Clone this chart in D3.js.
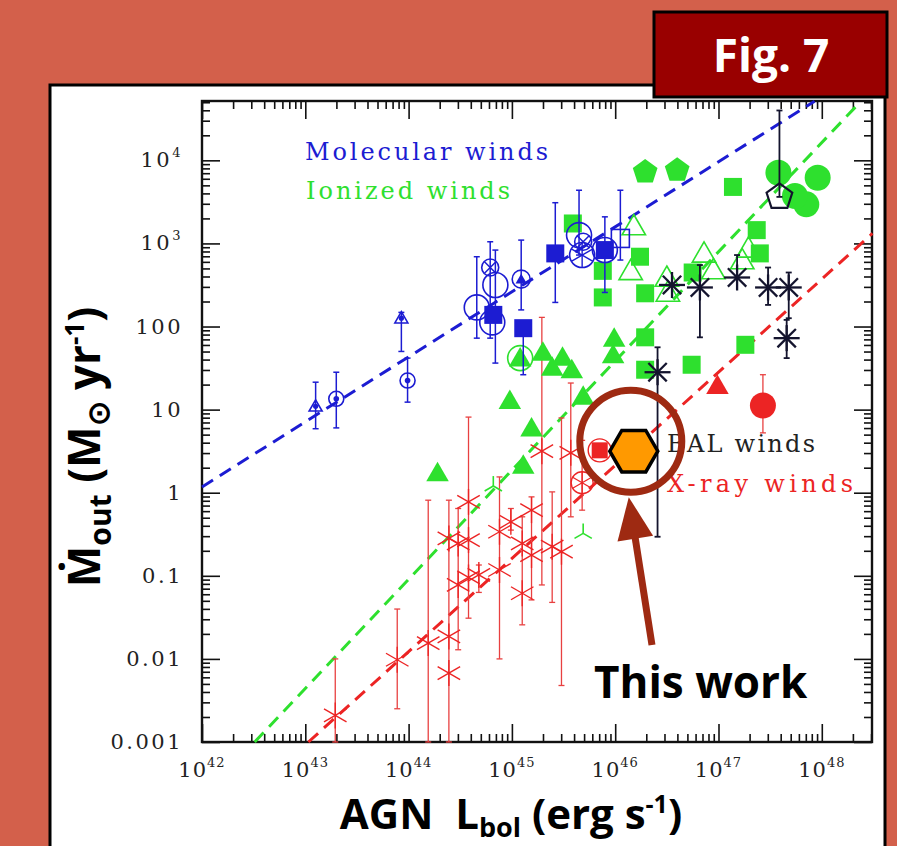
<!DOCTYPE html>
<html>
<head>
<meta charset="utf-8">
<script src="https://cdn.jsdelivr.net/npm/d3@7"></script>
<style>
  html, body { margin: 0; padding: 0; background: #D3604B; }
  svg { display: block; }
  text { white-space: pre; }
</style>
</head>
<body>
<svg id="chart" width="897" height="846"></svg>
<script>
// ---------- data (log10 of L_bol [erg/s] and log10 of Mdot_out [Msun/yr]) ----------
const xTickExponents = [42, 43, 44, 45, 46, 47, 48];
const yTickExponents = [-3, -2, -1, 0, 1, 2, 3, 4];
const yTickLabels = [["0.001"], ["0.01"], ["0.1"], ["1"], ["10"], ["100"], ["10", "3"], ["10", "4"]];

// scaling relations (dashed), given as two end points [logL, logMdot]
const molecularFit = [[42.00, 0.07], [47.93, 4.71]];
const ionizedFit   = [[42.51, -3.00], [48.34, 4.66]];
const xrayFit      = [[43.03, -3.00], [48.49, 3.12]];

// [logL, logMdot, logLow, logHigh, marker]
const molecularWinds = [
  [43.10, 1.04, 0.77, 1.33, "tdot"],
  [43.30, 1.13, 0.78, 1.45, "cdot"],
  [43.99, 1.35, 1.09, 1.62, "cdot"],
  [43.93, 2.10, 1.70, 2.17, "tdot"],
  [44.66, 2.23, 1.86, 2.84, "ocirc"],
  [44.79, 2.71, 1.86, 3.02, "cx"],
  [44.84, 2.50, 1.56, 2.92, "ocirc"],
  [44.81, 2.05, null, null, "ocirc"],
  [44.82, 2.14, null, null, "sq"],
  [45.09, 2.57, 2.20, 3.04, "ctri"],
  [45.11, 1.98, 1.42, 1.98, "sq"],
  [45.42, 2.88, 2.29, 3.49, "sq"],
  [45.65, 3.10, 2.86, 3.64, "ocirc"],
  [45.69, 3.02, null, null, "cx"],
  [45.68, 2.86, null, null, "wheel"],
  [45.90, 2.92, 2.41, 3.32, "sq"],
  [45.90, 2.92, null, null, "ocirc"],
  [46.05, 3.06, 2.80, 3.64, "osq"]
];

// [logL, logMdot, marker]
const ionizedWinds = [
  [45.59, 3.24, "sq"], [45.88, 2.67, "sq"], [45.88, 2.35, "sq"], [46.24, 2.84, "sq"],
  [46.29, 2.40, "sq"], [46.75, 2.65, "sq"], [47.14, 3.68, "sq"], [47.37, 3.16, "sq"],
  [47.40, 2.88, "sq"], [46.29, 1.87, "sq"], [46.29, 1.48, "sq"], [46.74, 1.54, "sq"],
  [47.26, 1.78, "sq"],
  [44.28, 0.24, "tri"], [44.98, 1.11, "tri"], [45.19, 0.78, "tri"], [45.11, 0.33, "tri"],
  [45.69, 1.16, "tri"], [45.08, 1.62, "tri"], [45.30, 1.69, "tri"], [45.49, 1.63, "tri"],
  [45.39, 1.51, "tri"], [45.58, 1.48, "tri"], [45.99, 1.86, "tri"], [45.98, 1.66, "tri"],
  [45.08, 1.62, "ocirc"],
  [46.18, 3.21, "otri"], [46.15, 2.67, "otri"], [46.50, 2.59, "otri"], [46.51, 2.41, "otri"],
  [46.86, 2.88, "otri"], [46.95, 2.68, "otri"], [47.29, 2.94, "otri"], [47.23, 2.80, "otri"],
  [46.29, 3.86, "pent"], [46.60, 3.88, "pent"],
  [47.58, 3.85, "dot"], [47.96, 3.79, "dot"], [47.85, 3.47, "dot"], [47.74, 3.57, "dot"],
  [44.82, 0.08, "y3"], [45.69, -0.49, "y3"]
];

const balWinds = [
  [46.55, 2.50, null, null, "ast8"],
  [46.82, 2.47, 1.87, 2.74, "ast8"],
  [47.18, 2.59, 2.59, 2.86, "ast8"],
  [47.48, 2.47, 2.26, 2.71, "ast8"],
  [47.68, 2.47, 2.10, 2.65, "ast8"],
  [47.66, 1.86, 1.62, 2.08, "ast8"],
  [46.41, 1.45, -0.53, 1.75, "ast8"],
  [47.59, 3.56, 3.56, 4.60, "opent"]
];

const xrayWinds = [
  [43.29, -2.68, -3.00, -2.00, "ast6"],
  [43.89, -2.01, -2.60, -1.40, "ast6"],
  [44.19, -1.81, -3.00, -0.09, "ast6"],
  [44.39, -1.73, -3.00, -0.09, "ast6"],
  [44.39, -2.17, null, null, "ast6"],
  [44.39, -0.55, null, null, "ast6"],
  [44.48, -1.11, -1.89, -0.19, "ast6"],
  [44.48, -0.61, null, null, "ast6"],
  [44.58, -0.11, -1.51, 0.91, "ast6"],
  [44.58, -0.57, null, null, "ast6"],
  [44.58, -1.02, null, null, "ast6"],
  [44.68, -0.99, -1.20, -0.87, "ast6"],
  [44.88, -0.47, -2.00, 0.19, "ast6"],
  [44.88, -0.93, null, null, "ast6"],
  [44.99, -0.35, -0.45, -0.19, "ast6"],
  [45.10, -0.61, -1.59, -0.29, "ast6"],
  [45.10, -1.21, null, null, "ast6"],
  [45.19, -0.21, -1.29, -0.05, "ast6"],
  [45.19, -0.75, null, null, "ast6"],
  [45.29, 0.50, -1.11, 2.11, "ast6"],
  [45.39, -0.65, -1.32, 0.01, "ast6"],
  [45.48, -0.71, -2.32, 0.90, "ast6"],
  [45.57, 0.48, -0.29, 1.32, "ast6"],
  [45.68, 0.12, -0.21, 0.63, "cplus"],
  [45.85, 0.51, null, null, "sqc"],
  [46.99, 1.29, null, null, "tri"],
  [47.43, 1.05, 0.72, 1.42, "dot"]
];

// the new measurement
const thisWork = [46.18, 0.50];

// ---------- colours ----------
const C = {
  bg: "#D3604B", fig: "#990000", ann: "#9E2A12",
  blue: "#1c1cd2", green: "#2ee02e", red: "#ec2424", bal: "#14142e", orange: "#FF9900"
};

// ---------- layout ----------
const svg = d3.select("#chart");
const plot = { left: 202, right: 872, top: 101, bottom: 742 };

const x = d3.scaleLog().domain([1e42, 10 ** 48.486]).range([plot.left, plot.right]);
const y = d3.scaleLog().domain([1e-3, 10 ** 4.714]).range([plot.bottom, plot.top]);
const X = l => x(10 ** l);
const Y = m => y(10 ** m);

// background panel
svg.append("rect").attr("width", 897).attr("height", 846).attr("fill", C.bg);
svg.append("rect").attr("x", 50).attr("y", 85).attr("width", 835).attr("height", 800)
  .attr("fill", "#ffffff").attr("stroke", "#000").attr("stroke-width", 3);

// ---------- axes ----------
const majorX = xTickExponents.map(e => 10 ** e);
const majorY = yTickExponents.map(e => 10 ** e);
const minorX = [], minorY = [];
for (let d = 42; d <= 48; d++) for (let k = 2; k <= 9; k++) {
  const v = k * 10 ** d; if (v < x.domain()[1]) minorX.push(v);
}
for (let d = -3; d <= 4; d++) for (let k = 2; k <= 9; k++) {
  const v = k * 10 ** d; if (v < y.domain()[1]) minorY.push(v);
}

function tickAxis(axisFn, scale, vals, size, transform) {
  const g = svg.append("g").attr("transform", transform)
    .call(axisFn(scale).tickValues(vals).tickSize(-size).tickFormat(""));
  g.select(".domain").remove();
  g.selectAll(".tick line").attr("stroke", "#111").attr("stroke-width", 1.6);
}
tickAxis(d3.axisBottom, x, majorX, 18, `translate(0,${plot.bottom})`);
tickAxis(d3.axisBottom, x, minorX, 8, `translate(0,${plot.bottom})`);
tickAxis(d3.axisTop, x, majorX, 18, `translate(0,${plot.top})`);
tickAxis(d3.axisTop, x, minorX, 8, `translate(0,${plot.top})`);
tickAxis(d3.axisLeft, y, majorY, 18, `translate(${plot.left},0)`);
tickAxis(d3.axisLeft, y, minorY, 8, `translate(${plot.left},0)`);
tickAxis(d3.axisRight, y, majorY, 18, `translate(${plot.right},0)`);
tickAxis(d3.axisRight, y, minorY, 8, `translate(${plot.right},0)`);

svg.append("rect").attr("x", plot.left).attr("y", plot.top)
  .attr("width", plot.right - plot.left).attr("height", plot.bottom - plot.top)
  .attr("fill", "none").attr("stroke", "#111").attr("stroke-width", 2.4);

// tick labels
const tickFont = "'DejaVu Serif', 'Liberation Serif', serif";
xTickExponents.forEach(e => {
  const t = svg.append("text").attr("x", X(e)).attr("y", 777)
    .attr("text-anchor", "middle").attr("font-family", tickFont)
    .attr("font-size", 21).attr("fill", "#222").attr("letter-spacing", 1);
  t.append("tspan").text("10");
  t.append("tspan").attr("font-size", 13).attr("dy", -10).text(String(e));
});
yTickExponents.forEach((e, i) => {
  const lab = yTickLabels[i];
  const t = svg.append("text").attr("x", 183).attr("y", Y(e) + 7)
    .attr("text-anchor", "end").attr("font-family", tickFont)
    .attr("font-size", 21).attr("fill", "#222").attr("letter-spacing", 2.5);
  t.append("tspan").text(lab[0]);
  if (lab[1]) t.append("tspan").attr("font-size", 13).attr("dy", -10).text(lab[1]);
});

// ---------- fit lines ----------
const line = d3.line().x(d => X(d[0])).y(d => Y(d[1]));
[[molecularFit, C.blue], [ionizedFit, C.green], [xrayFit, C.red]].forEach(([pts, col]) => {
  svg.append("path").attr("d", line(pts)).attr("fill", "none")
    .attr("stroke", col).attr("stroke-width", 3).attr("stroke-dasharray", "13,8");
});

// ---------- markers ----------
function regPoly(n, r, rot) {
  const p = [];
  for (let i = 0; i < n; i++) {
    const a = rot + i * 2 * Math.PI / n;
    p.push([r * Math.cos(a), r * Math.sin(a)]);
  }
  return "M" + p.map(q => q[0].toFixed(2) + "," + q[1].toFixed(2)).join("L") + "Z";
}
function spokes(g, n, r, rot, col, w) {
  for (let i = 0; i < n; i++) {
    const a = rot + i * 2 * Math.PI / n;
    g.append("line").attr("x1", 0).attr("y1", 0)
      .attr("x2", r * Math.cos(a)).attr("y2", r * Math.sin(a))
      .attr("stroke", col).attr("stroke-width", w);
  }
}
const UP = -Math.PI / 2;
function drawMarker(layer, type, cx, cy, col) {
  const g = layer.append("g").attr("transform", `translate(${cx},${cy})`);
  const open = (el, w) => el.attr("fill", "none").attr("stroke", col).attr("stroke-width", w || 1.6);
  switch (type) {
    case "sq": g.append("rect").attr("x", -9).attr("y", -9).attr("width", 18).attr("height", 18).attr("fill", col); break;
    case "osq": open(g.append("rect").attr("x", -9).attr("y", -9).attr("width", 18).attr("height", 18)); break;
    case "tri": g.append("path").attr("d", regPoly(3, 13, UP)).attr("transform", "translate(0,2)").attr("fill", col); break;
    case "otri": open(g.append("path").attr("d", regPoly(3, 13.5, UP)).attr("transform", "translate(0,2)")); break;
    case "pent": g.append("path").attr("d", regPoly(5, 13, UP)).attr("fill", col); break;
    case "opent": open(g.append("path").attr("d", regPoly(5, 13.5, UP)), 2.2); break;
    case "dot": g.append("circle").attr("r", 13).attr("fill", col); break;
    case "ocirc": open(g.append("circle").attr("r", 12.5)); break;
    case "cdot":
      open(g.append("circle").attr("r", 7.5));
      g.append("circle").attr("r", 2.8).attr("fill", col); break;
    case "tdot":
      open(g.append("path").attr("d", regPoly(3, 7.5, UP)).attr("transform", "translate(0,1)"));
      g.append("circle").attr("r", 2.6).attr("fill", col); break;
    case "cx":
      open(g.append("circle").attr("r", 8.5));
      spokes(g, 4, 8.5, Math.PI / 4, col, 1.5); break;
    case "ctri":
      open(g.append("circle").attr("r", 9));
      g.append("path").attr("d", regPoly(3, 6.5, UP)).attr("transform", "translate(0,1)").attr("fill", col); break;
    case "wheel":
      open(g.append("circle").attr("r", 12.5));
      spokes(g, 6, 12.5, UP, col, 1.4); break;
    case "ast8": spokes(g, 8, 13, 0, col, 2.3); break;
    case "ast6": spokes(g, 6, 13, UP, col, 1.4); break;
    case "y3": spokes(g, 3, 10, UP, col, 1.6); break;
    case "cplus":
      open(g.append("circle").attr("r", 11), 1.4);
      spokes(g, 6, 11, UP, col, 1.3); break;
    case "sqc":
      g.append("rect").attr("x", -8).attr("y", -8).attr("width", 16).attr("height", 16).attr("fill", col);
      open(g.append("circle").attr("r", 11.5), 1.4); break;
  }
}
function errorBars(layer, data, col, w) {
  data.filter(d => d[2] !== null).forEach(d => {
    const cx = X(d[0]), y1 = Y(d[2]), y2 = Y(d[3]);
    layer.append("line").attr("x1", cx).attr("x2", cx).attr("y1", y1).attr("y2", y2)
      .attr("stroke", col).attr("stroke-width", w);
    [y1, y2].forEach(yy => layer.append("line").attr("x1", cx - 3).attr("x2", cx + 3)
      .attr("y1", yy).attr("y2", yy).attr("stroke", col).attr("stroke-width", w));
  });
}

const pts = svg.append("g");
// X-ray winds
errorBars(pts, xrayWinds, "#e84040", 1.3);
xrayWinds.forEach(d => drawMarker(pts, d[4], X(d[0]), Y(d[1]), C.red));
// ionized winds
ionizedWinds.forEach(d => drawMarker(pts, d[2], X(d[0]), Y(d[1]), C.green));
// molecular winds
errorBars(pts, molecularWinds, C.blue, 1.5);
molecularWinds.forEach(d => drawMarker(pts, d[4], X(d[0]), Y(d[1]), C.blue));
// BAL winds
errorBars(pts, balWinds, C.bal, 1.8);
balWinds.forEach(d => drawMarker(pts, d[4], X(d[0]), Y(d[1]), C.bal));

// ---------- in-plot labels ----------
const labFont = "'DejaVu Serif', serif";
[
  ["Molecular winds", 305, 160, 243, C.blue],
  ["Ionized winds", 306, 199, 204, C.green],
  ["BAL winds", 667, 452, 148, "#222"],
  ["X-ray winds", 667, 492, 186, C.red]
].forEach(([txt, tx, ty, len, col]) => {
  svg.append("text").attr("x", tx).attr("y", ty).attr("font-family", labFont)
    .attr("font-size", 24).attr("fill", col)
    .attr("textLength", len).attr("lengthAdjust", "spacing").text(txt);
});

// ---------- this work ----------
const hx = X(thisWork[0]), hy = Y(thisWork[1]);
svg.append("path").attr("d", regPoly(6, 24, 0)).attr("transform", `translate(${hx},${hy})`)
  .attr("fill", C.orange).attr("stroke", "#000").attr("stroke-width", 3.5);

svg.append("circle").attr("cx", hx - 3).attr("cy", hy - 10).attr("r", 51)
  .attr("fill", "none").attr("stroke", C.ann).attr("stroke-width", 7);

// arrow from label up to the circle
const tail = [652, 645], tip = [hx - 5, hy + 46];
const dx = tip[0] - tail[0], dy = tip[1] - tail[1], len = Math.hypot(dx, dy);
const ux = dx / len, uy = dy / len, px = -uy, py = ux;
const headLen = 42, headHalf = 18;
const base = [tip[0] - ux * headLen, tip[1] - uy * headLen];
svg.append("line").attr("x1", tail[0]).attr("y1", tail[1])
  .attr("x2", base[0] + ux * 2).attr("y2", base[1] + uy * 2)
  .attr("stroke", C.ann).attr("stroke-width", 7);
svg.append("path")
  .attr("d", `M${tip[0]},${tip[1]}L${base[0] + px * headHalf},${base[1] + py * headHalf}L${base[0] - px * headHalf},${base[1] - py * headHalf}Z`)
  .attr("fill", C.ann);

const boldFont = "'Open Sans', 'Lato', sans-serif";
svg.append("text").attr("x", 594).attr("y", 698).attr("font-family", boldFont)
  .attr("font-weight", 700).attr("font-size", 44).attr("fill", "#000").text("This work");

// ---------- axis titles ----------
const xt = svg.append("text").attr("x", 511).attr("y", 829).attr("text-anchor", "middle")
  .attr("font-family", boldFont).attr("font-weight", 700).attr("font-size", 42).attr("fill", "#000");
xt.append("tspan").text("AGN  L");
xt.append("tspan").attr("font-size", 27).attr("dy", 8).text("bol");
xt.append("tspan").attr("dy", -8).text(" (erg s");
xt.append("tspan").attr("font-size", 25).attr("dy", -16).text("-1");
xt.append("tspan").attr("dy", 16).text(")");

const yt = svg.append("text").attr("transform", "translate(100,447) rotate(-90)")
  .attr("text-anchor", "middle").attr("font-family", boldFont).attr("font-weight", 700)
  .attr("font-size", 44).attr("fill", "#000");
yt.append("tspan").text("\u1E40");
yt.append("tspan").attr("font-size", 30).attr("dy", 11).text("out");
yt.append("tspan").attr("dy", -11).text(" (M");
yt.append("tspan").attr("font-size", 30).attr("dy", 9).text("\u2299");
yt.append("tspan").attr("dy", -9).text(" yr");
yt.append("tspan").attr("font-size", 26).attr("dy", -16).text("-1");
yt.append("tspan").attr("dy", 16).text(")");

// ---------- figure tag ----------
svg.append("rect").attr("x", 654).attr("y", 12).attr("width", 233).attr("height", 85)
  .attr("fill", C.fig).attr("stroke", "#000").attr("stroke-width", 3);
svg.append("text").attr("x", 771).attr("y", 72).attr("text-anchor", "middle")
  .attr("font-family", boldFont).attr("font-weight", 700).attr("font-size", 46)
  .attr("fill", "#fff").text("Fig. 7");
</script>
</body>
</html>
